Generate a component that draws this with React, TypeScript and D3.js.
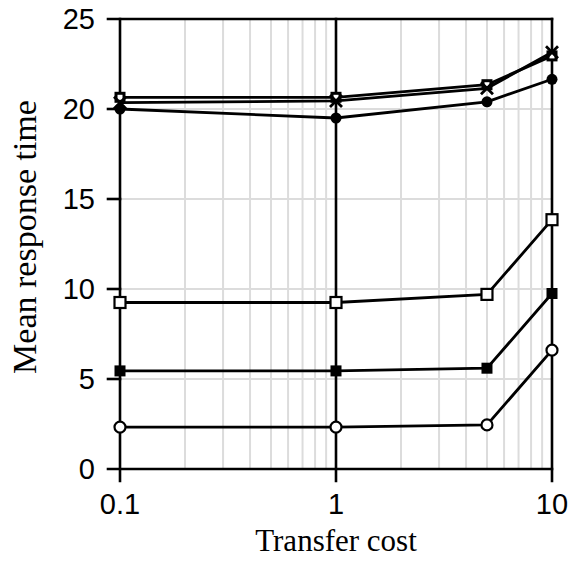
import React from "react";
import * as d3 from "d3";

// Transfer cost values on the (log) x axis
const transferCosts = [0.1, 1, 5, 10];

// Mean response time per series, one value per transfer cost
const openCircleTimes = [2.33, 2.33, 2.45, 6.6];
const filledSquareTimes = [5.45, 5.45, 5.6, 9.75];
const openSquareTimes = [9.25, 9.25, 9.7, 13.85];
const filledCircleTimes = [20.0, 19.5, 20.4, 21.65];
const upperSquareTimes = [20.65, 20.65, 21.35, 22.95];
const crossTimes = [20.35, 20.45, 21.15, 23.15];

const xTickValues = [0.1, 1, 10];
const xTickLabels = ["0.1", "1", "10"];
const yTickValues = [0, 5, 10, 15, 20, 25];

const W = 571;
const H = 564;
const M = { left: 120, right: 552, top: 19, bottom: 469 };

type Marker = "openCircle" | "filledCircle" | "openSquare" | "smallSquare" | "filledSquare" | "cross";

const series: { name: string; values: number[]; marker: Marker }[] = [
  { name: "openCircle", values: openCircleTimes, marker: "openCircle" },
  { name: "filledSquare", values: filledSquareTimes, marker: "filledSquare" },
  { name: "openSquare", values: openSquareTimes, marker: "openSquare" },
  { name: "filledCircle", values: filledCircleTimes, marker: "filledCircle" },
  { name: "upperSquare", values: upperSquareTimes, marker: "smallSquare" },
  { name: "cross", values: crossTimes, marker: "cross" },
];

function MarkerShape({ type, cx, cy }: { type: Marker; cx: number; cy: number }) {
  switch (type) {
    case "openCircle":
      return <circle cx={cx} cy={cy} r={5.5} fill="#fff" stroke="#000" strokeWidth={2.2} />;
    case "filledCircle":
      return <circle cx={cx} cy={cy} r={5.5} fill="#000" />;
    case "openSquare":
      return <rect x={cx - 5.5} y={cy - 5.5} width={11} height={11} fill="#fff" stroke="#000" strokeWidth={2.2} />;
    case "smallSquare":
      return <rect x={cx - 4} y={cy - 4} width={8} height={8} fill="#fff" stroke="#000" strokeWidth={3} />;
    case "filledSquare":
      return <rect x={cx - 5.5} y={cy - 5.5} width={11} height={11} fill="#000" />;
    case "cross":
      return (
        <path
          d={`M${cx - 6},${cy - 6}L${cx + 6},${cy + 6}M${cx - 6},${cy + 6}L${cx + 6},${cy - 6}`}
          stroke="#000"
          strokeWidth={2.8}
        />
      );
  }
}

export default function App() {
  const x = d3.scaleLog().domain([0.1, 10]).range([M.left, M.right]);
  const y = d3.scaleLinear().domain([0, 25]).range([M.bottom, M.top]);

  const minorX = x.ticks().filter((t) => !xTickValues.some((v) => Math.abs(v - t) < 1e-9));
  const line = d3
    .line<number>()
    .x((_, i) => x(transferCosts[i]))
    .y((v) => y(v));

  return (
    <svg
      width={W}
      height={H}
      style={{ position: "absolute", left: 0, top: 0, background: "#fff" }}
    >
      {/* light grid */}
      <g stroke="#dcdcdc" strokeWidth={2}>
        {minorX.map((t) => (
          <line key={`vx${t}`} x1={x(t)} x2={x(t)} y1={M.top} y2={M.bottom} />
        ))}
        {yTickValues
          .filter((v) => v > 0 && v < 25)
          .map((v) => (
            <line key={`hy${v}`} x1={M.left} x2={M.right} y1={y(v)} y2={y(v)} />
          ))}
      </g>

      {/* frame, major vertical lines and ticks */}
      <g stroke="#000" strokeWidth={2.6} strokeLinecap="square">
        {xTickValues.map((v) => (
          <line key={`mx${v}`} x1={x(v)} x2={x(v)} y1={M.top} y2={M.bottom + 12} />
        ))}
        {yTickValues.map((v) => (
          <line key={`ty${v}`} x1={M.left - 12} x2={v === 0 || v === 25 ? M.right : M.left} y1={y(v)} y2={y(v)} />
        ))}
      </g>

      {/* data lines */}
      <g fill="none" stroke="#000" strokeWidth={2.8}>
        {series.map((s) => (
          <path key={`l-${s.name}`} d={line(s.values) || ""} />
        ))}
      </g>

      {/* markers */}
      {series.map((s) => (
        <g key={`m-${s.name}`}>
          {s.values.map((v, i) => (
            <MarkerShape key={i} type={s.marker} cx={x(transferCosts[i])} cy={y(v)} />
          ))}
        </g>
      ))}

      {/* tick labels */}
      <g fontFamily="'Liberation Sans', Arial, sans-serif" fontSize={29} fill="#000">
        {yTickValues.map((v) => (
          <text key={`yl${v}`} x={95} y={y(v)} dy="0.35em" textAnchor="end">
            {v}
          </text>
        ))}
        {xTickValues.map((v, i) => (
          <text key={`xl${v}`} x={x(v)} y={514} textAnchor="middle">
            {xTickLabels[i]}
          </text>
        ))}
      </g>

      {/* axis titles */}
      <g fontFamily="'Liberation Serif', 'Times New Roman', serif" fill="#000">
        <text x={(M.left + M.right) / 2} y={551} textAnchor="middle" fontSize={31}>
          Transfer cost
        </text>
        <text
          transform={`translate(36,237) rotate(-90)`}
          textAnchor="middle"
          fontSize={34}
        >
          Mean response time
        </text>
      </g>
    </svg>
  );
}
